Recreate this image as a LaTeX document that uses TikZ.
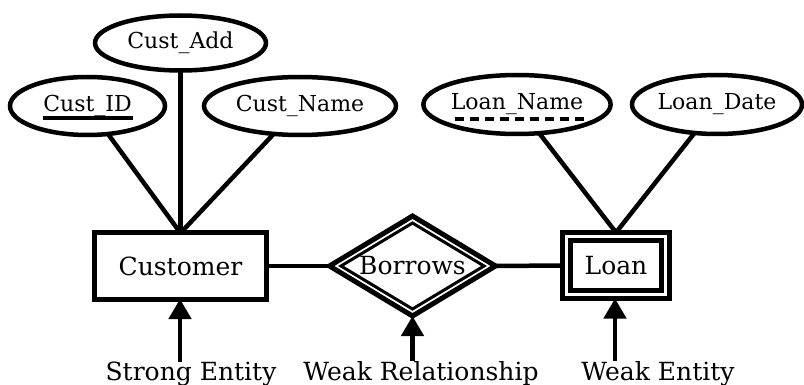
\documentclass[tikz,border=0pt]{standalone}
\usepackage{fontspec}
\setmainfont{DejaVu Serif}
\usetikzlibrary{shapes.geometric,arrows.meta}
\begin{document}
\begin{tikzpicture}[x=1pt,y=-1pt,
  attr/.style={ellipse,draw,line width=4.5pt,inner sep=0pt,outer sep=0pt,font=\fontsize{22}{24}\selectfont},
  entity/.style={rectangle,draw,line width=5pt,inner sep=0pt,outer sep=0pt,font=\fontsize{25}{28}\selectfont},
  inbox/.style={rectangle,draw,line width=5pt,inner sep=0pt,outer sep=0pt},
  rel/.style={diamond,aspect=1.66,draw,line width=5pt,inner sep=0pt,outer sep=0pt,font=\fontsize{25}{28}\selectfont},
  inrel/.style={diamond,aspect=1.66,draw,line width=3pt,inner sep=0pt,outer sep=0pt},
  conn/.style={line width=4.5pt},
  tag/.style={inner sep=0pt,outer sep=0pt,anchor=base,font=\fontsize{25}{28}\selectfont},
  pointer/.style={line width=4.5pt,-{Triangle[length=20pt,width=22pt]}}]
\useasboundingbox[fill=white] (0,0) rectangle (804,385);

% entities and relationship
\node[entity,minimum width=172pt,minimum height=66pt] (cust) at (180.5,266) {Customer};
\node[inbox,minimum width=107pt,minimum height=66pt] (loan) at (616,265.5) {};
\node[inbox,minimum width=91pt,minimum height=50pt,font=\fontsize{25}{28}\selectfont] (loanin) at (616,265.5) {Loan};
\node[rel,minimum width=166pt,minimum height=100pt] (borrows) at (412.5,266) {Borrows};
\node[inrel,minimum width=143pt,minimum height=86pt] (borrowsin) at (412.5,266) {};

% attributes
\node[attr,minimum width=171pt,minimum height=55pt] (cadd) at (180.5,43) {Cust\_Add};
\node[attr,minimum width=155pt,minimum height=58pt] (cid) at (87.5,106) {Cust\_ID};
\node[attr,minimum width=192pt,minimum height=58pt] (cname) at (300,106) {Cust\_Name};
\node[attr,minimum width=187pt,minimum height=59pt] (lname) at (517,104.5) {Loan\_Name};
\node[attr,minimum width=170pt,minimum height=59pt] (ldate) at (717,104.5) {Loan\_Date};

% key underlines: solid for the key, dashed for the partial key
\draw[line width=3.5pt] ([yshift=-12pt]cid.center -| 43,0) coordinate (ka) -- ([yshift=-12pt]cid.center -| 133,0) coordinate (kb);
\draw[line width=3.5pt,dash pattern=on 9pt off 6pt] ([yshift=-14.5pt]lname.center -| 455,0) coordinate (pa) -- ([yshift=-14.5pt]lname.center -| 584,0) coordinate (pb);

% connectors
\draw[conn] (cadd) -- (cust.north);
\draw[conn] (cid) -- (cust.north);
\draw[conn] (cname) -- (cust.north);
\draw[conn] (lname) -- (loan.north);
\draw[conn] (ldate) -- (loan.north);
\draw[conn] (cust.east) -- (borrows.west);
\draw[conn] (borrows.east) -- (loan.west);

% legend labels with pointers
\node[tag] (strong) at (191,380) {Strong Entity};
\node[tag] (weakrel) at (421,380) {Weak Relationship};
\node[tag] (weakent) at (658,380) {Weak Entity};
\coordinate (s0) at (180,362);
\coordinate (r0) at (412.5,361);
\coordinate (e0) at (615,361);
\draw[pointer] (s0) -- (cust.south -| s0);
\draw[pointer] (r0) -- (borrows.south);
\draw[pointer] (e0) -- (loan.south -| e0);
\end{tikzpicture}
\end{document}
